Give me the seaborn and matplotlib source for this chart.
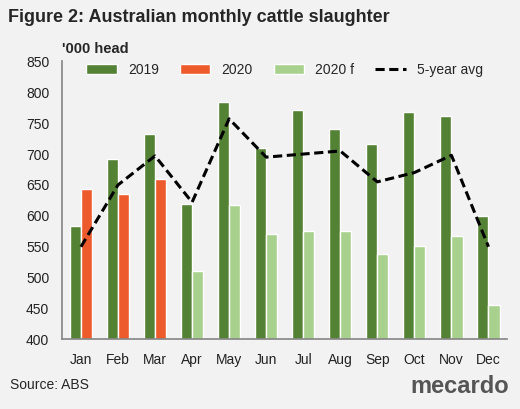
import matplotlib
matplotlib.use("Agg")
import matplotlib.pyplot as plt
import seaborn as sns
import numpy as np
import pandas as pd

months = ["Jan","Feb","Mar","Apr","May","Jun","Jul","Aug","Sep","Oct","Nov","Dec"]
s2019 = [583, 692, 733, 620, 785, 710, 771, 740, 717, 768, 762, 600]
s2020 = [643, 635, 660, None, None, None, None, None, None, None, None, None]
s2020f = [None, None, None, 511, 618, 570, 575, 576, 539, 551, 568, 455]
avg5 = [550, 650, 697, 622, 757, 695, 700, 705, 655, 670, 698, 550]

sns.set_theme(style="white")
plt.rcParams['font.family'] = ['Liberation Sans', 'DejaVu Sans']

fig = plt.figure(figsize=(5.2, 4.09), dpi=100, facecolor="#f2f2f2")
ax = fig.add_axes([0.12, 0.17, 0.855, 0.68])
ax.set_facecolor("#f2f2f2")
x = np.arange(12)
w = 0.3
ax.bar(x - w/2, s2019, w, color="#548235", label="2019", zorder=2)
ax.bar(x[:3] + w/2, s2020[:3], w, color="#ed5b2d", label="2020", zorder=2)
ax.bar(x[3:] + w/2, s2020f[3:], w, color="#a9d18e", label="2020 f", zorder=2)
df = pd.DataFrame({"x": x, "y": avg5})
sns.lineplot(data=df, x="x", y="y", ax=ax, color="black", lw=2.2, linestyle=(0, (3, 1.5)), label="5-year avg", zorder=3)
ax.set_ylim(400, 850)
ax.set_xlim(-0.5, 11.5)
ax.set_yticks(range(400, 851, 50))
ax.set_xticks(x)
ax.set_xticklabels(months)
ax.set_xlabel(""); ax.set_ylabel("")
ax.tick_params(labelsize=10, colors="#222222")
for s in ["top", "right"]:
    ax.spines[s].set_visible(False)
for s in ["left", "bottom"]:
    ax.spines[s].set_color("#888888")
h, l = ax.get_legend_handles_labels()
order = [l.index(k) for k in ["2019", "2020", "2020 f", "5-year avg"]]
ax.legend([h[i] for i in order], [l[i] for i in order], ncol=4, loc="upper center", frameon=False,
          fontsize=10, bbox_to_anchor=(0.5, 1.04), handlelength=2.2, columnspacing=1.5)
fig.text(0.015, 0.945, "Figure 2: Australian monthly cattle slaughter", fontsize=13, fontweight="bold")
fig.text(0.12, 0.87, "'000 head", fontsize=10.5, fontweight="bold")
fig.text(0.02, 0.05, "Source: ABS", fontsize=10)
fig.text(0.79, 0.04, "mecardo", fontsize=17, fontweight="bold", color="#555555")
fig.savefig("out.png", dpi=100, facecolor=fig.get_facecolor())
